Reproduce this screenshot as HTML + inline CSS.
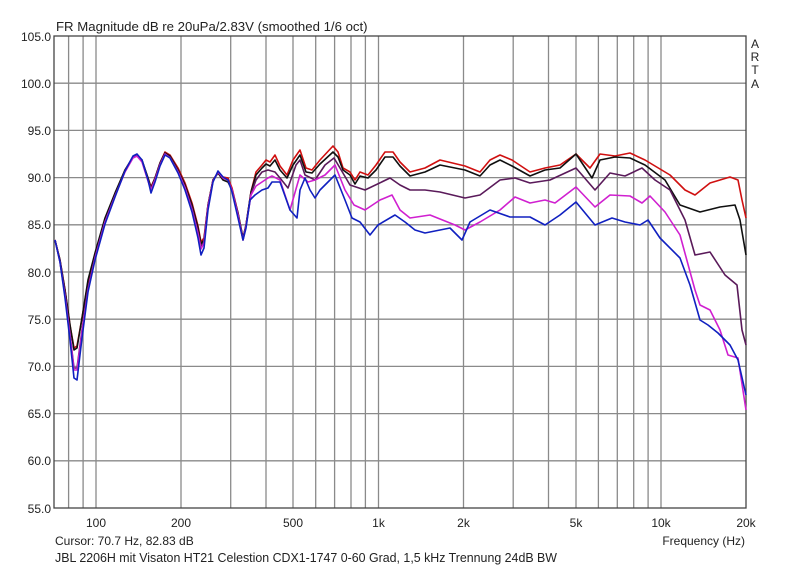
<!DOCTYPE html>
<html><head><meta charset="utf-8"><style>
html,body{margin:0;padding:0;background:#fff;}
svg text{font-family:"Liberation Sans",Arial,sans-serif;font-size:12px;fill:#222;}
</style></head><body>
<svg width="800" height="569" viewBox="0 0 800 569" xmlns="http://www.w3.org/2000/svg">
<rect width="800" height="569" fill="#fff"/>
<g stroke="#8a8a8a" stroke-width="1.3">
<line x1="68.6" y1="36" x2="68.6" y2="508"/><line x1="83.1" y1="36" x2="83.1" y2="508"/><line x1="96" y1="36" x2="96" y2="508"/>
<line x1="181" y1="36" x2="181" y2="508"/><line x1="230.7" y1="36" x2="230.7" y2="508"/><line x1="266" y1="36" x2="266" y2="508"/>
<line x1="293" y1="36" x2="293" y2="508"/><line x1="315.7" y1="36" x2="315.7" y2="508"/><line x1="334.6" y1="36" x2="334.6" y2="508"/>
<line x1="351" y1="36" x2="351" y2="508"/><line x1="365.4" y1="36" x2="365.4" y2="508"/><line x1="378.5" y1="36" x2="378.5" y2="508"/>
<line x1="463.5" y1="36" x2="463.5" y2="508"/><line x1="513.2" y1="36" x2="513.2" y2="508"/><line x1="548.5" y1="36" x2="548.5" y2="508"/>
<line x1="576" y1="36" x2="576" y2="508"/><line x1="598.4" y1="36" x2="598.4" y2="508"/><line x1="617.3" y1="36" x2="617.3" y2="508"/>
<line x1="633.7" y1="36" x2="633.7" y2="508"/><line x1="648.1" y1="36" x2="648.1" y2="508"/><line x1="661" y1="36" x2="661" y2="508"/>
<line x1="54" y1="83.2" x2="746" y2="83.2"/><line x1="54" y1="130.4" x2="746" y2="130.4"/><line x1="54" y1="177.6" x2="746" y2="177.6"/>
<line x1="54" y1="224.8" x2="746" y2="224.8"/><line x1="54" y1="272" x2="746" y2="272"/><line x1="54" y1="319.2" x2="746" y2="319.2"/>
<line x1="54" y1="366.4" x2="746" y2="366.4"/><line x1="54" y1="413.6" x2="746" y2="413.6"/><line x1="54" y1="460.8" x2="746" y2="460.8"/>
</g>
<rect x="54" y="36" width="692" height="472" fill="none" stroke="#444" stroke-width="1.3"/>
<g fill="none" stroke-width="1.6" stroke-linejoin="round">
<polyline stroke="#d01010" points="55,240 60,260 65,290 70,325 74,348 77,346 82,318 88,282 95,255 105,220 115,195 125,170 133,157 137,156 142,161 148,178 151,187 155,178 160,163 165,152 170,155 178,168 185,183 192,203 198,226 201,242 204,238 208,205 213,180 218,173 223,177 228,178 232,188 238,213 243,238 246,225 251,192 256,172 262,165 266,160 270,162 275,155 280,166 287,175 293,160 300,150 306,168 312,170 320,160 333,146 338,152 343,168 350,172 355,180 360,172 368,175 376,165 385,152 393,152 400,162 410,172 425,168 440,160 465,166 480,172 490,160 500,155 512,160 530,172 545,168 560,165 576,154 590,168 600,154 615,156 630,153 645,160 670,175 685,190 695,195 710,183 730,177 738,180 742,200 746,218"/>
<polyline stroke="#101010" points="55,240 60,260 65,290 70,325 74,350 77,348 82,318 88,280 95,253 105,218 115,193 125,170 133,157 137,155 142,160 148,178 151,188 155,178 160,163 165,153 170,156 178,170 185,185 192,205 198,228 201,244 204,240 208,205 213,180 218,173 223,180 228,182 232,190 238,213 243,238 246,225 251,192 256,175 262,168 266,164 270,166 275,160 280,170 287,178 293,165 300,155 306,172 312,173 320,164 333,152 338,157 343,170 350,175 355,184 360,176 368,178 376,170 385,157 393,157 400,166 410,176 425,172 440,165 465,170 480,176 490,165 500,160 512,166 530,176 545,170 560,168 576,154 592,178 600,160 615,157 630,158 645,165 665,180 680,205 700,212 720,207 735,205 740,220 746,255"/>
<polyline stroke="#5a1a5a" points="55,240 60,262 65,295 70,335 74,368 77,368 82,330 88,288 95,258 105,222 115,196 125,171 133,157 137,155 142,161 148,180 151,189 155,179 160,164 165,154 170,157 178,171 185,187 192,208 198,232 201,247 204,242 208,206 213,181 218,172 223,178 228,180 232,190 238,215 243,240 246,226 251,194 256,180 262,172 268,170 275,172 280,178 288,188 296,165 300,160 305,175 315,180 325,165 334,158 340,168 350,185 365,190 390,178 400,185 410,190 425,190 440,192 465,198 480,195 500,180 515,178 530,183 550,180 576,168 595,190 610,173 625,176 642,168 655,180 670,190 685,220 695,255 710,252 725,275 737,285 742,330 746,345"/>
<polyline stroke="#d020d0" points="55,240 60,262 65,295 70,335 74,370 77,370 82,332 88,290 95,258 105,222 115,196 125,172 133,158 137,156 142,162 148,181 151,190 155,180 160,165 165,154 170,158 178,172 185,188 192,210 198,234 201,249 204,243 208,207 213,181 218,172 223,178 228,180 232,190 238,215 243,240 246,226 251,195 256,186 262,182 268,178 272,176 280,180 290,210 300,175 308,182 315,180 325,175 335,165 345,190 354,205 365,210 380,200 392,195 400,210 410,218 430,215 455,225 465,230 480,222 500,210 515,197 530,203 545,200 555,203 576,187 595,207 610,195 630,196 642,203 650,196 665,212 680,235 695,290 700,305 710,310 720,330 728,355 738,358 746,410"/>
<polyline stroke="#1020c0" points="55,240 60,262 65,298 70,340 74,378 77,380 82,338 88,292 95,260 105,224 115,197 125,171 133,156 137,154 142,160 148,180 151,193 155,182 160,166 165,155 170,158 178,173 185,190 192,212 198,238 201,255 204,248 208,210 213,182 218,171 223,177 228,180 232,192 238,218 243,240 246,228 250,200 255,195 262,190 268,188 272,182 280,182 290,210 297,218 300,190 305,178 310,190 315,198 320,190 330,180 335,175 345,200 352,218 360,222 370,235 378,225 395,215 405,222 415,230 425,233 450,228 462,240 470,222 490,210 510,217 530,217 545,225 560,215 576,202 595,225 612,218 625,222 640,225 648,220 660,238 680,258 690,285 700,320 708,325 718,333 730,345 738,360 746,395"/>
</g>
<g text-anchor="end">
<text x="51" y="41">105.0</text><text x="51" y="88">100.0</text><text x="51" y="135">95.0</text>
<text x="51" y="182">90.0</text><text x="51" y="229">85.0</text><text x="51" y="277">80.0</text>
<text x="51" y="324">75.0</text><text x="51" y="371">70.0</text><text x="51" y="418">65.0</text>
<text x="51" y="465">60.0</text><text x="51" y="513">55.0</text>
</g>
<g text-anchor="middle">
<text x="96" y="527">100</text><text x="181" y="527">200</text><text x="293" y="527">500</text>
<text x="378.5" y="527">1k</text><text x="463.5" y="527">2k</text><text x="576" y="527">5k</text>
<text x="661" y="527">10k</text><text x="746" y="527">20k</text>
<text x="755" y="48">A</text><text x="755" y="61">R</text><text x="755" y="74">T</text><text x="755" y="88">A</text>
</g>
<text x="56" y="31" style="font-size:13.2px">FR Magnitude dB re 20uPa/2.83V (smoothed 1/6 oct)</text>
<text x="55" y="545">Cursor: 70.7 Hz, 82.83 dB</text>
<text x="745" y="545" text-anchor="end">Frequency (Hz)</text>
<text x="55" y="562" style="font-size:13px" textLength="502" lengthAdjust="spacingAndGlyphs">JBL 2206H mit Visaton HT21 Celestion CDX1-1747 0-60 Grad, 1,5 kHz Trennung 24dB BW</text>
</svg>
</body></html>
